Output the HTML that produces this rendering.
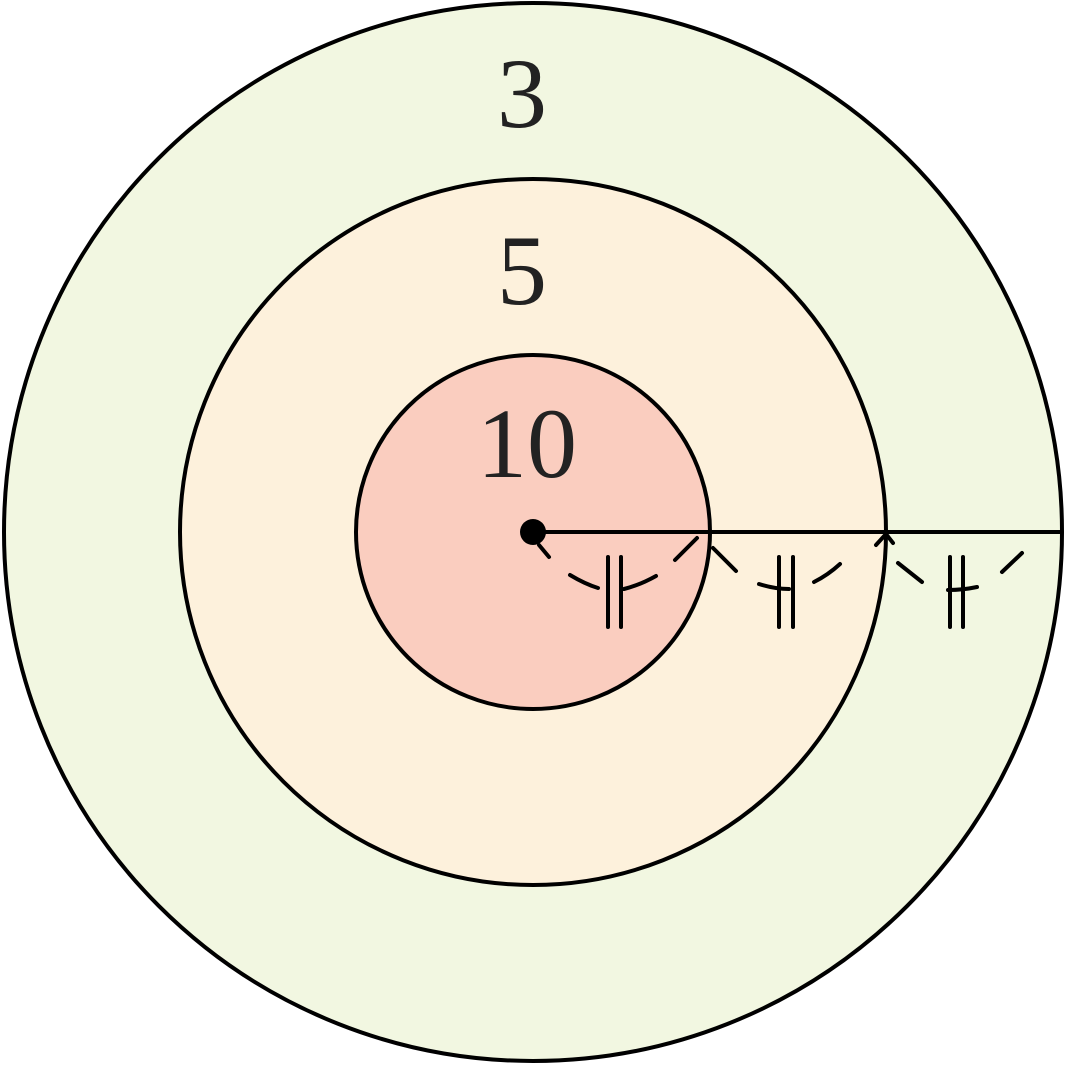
<!DOCTYPE html>
<html><head><meta charset="utf-8"><style>html,body{margin:0;padding:0;background:#fff}</style></head>
<body>
<svg width="1065" height="1065" viewBox="0 0 1065 1065" xmlns="http://www.w3.org/2000/svg">
<circle cx="533" cy="532" r="529" fill="#f2f7e1" stroke="#000" stroke-width="4"/>
<circle cx="533" cy="532" r="353" fill="#fdf1dc" stroke="#000" stroke-width="4"/>
<circle cx="533" cy="532" r="177" fill="#facdbf" stroke="#000" stroke-width="4"/>
<g font-family="Liberation Serif, serif" font-size="100" fill="#222" text-anchor="middle">
<text x="522" y="127">3</text>
<text x="522" y="304">5</text>
<text x="527" y="477">10</text>
</g>
<line x1="533" y1="532" x2="1062" y2="532" stroke="#000" stroke-width="4"/>
<circle cx="533" cy="532" r="13" fill="#000"/>
<g fill="none" stroke="#000" stroke-width="4" stroke-linecap="round">
<path d="M539,545 L549,557 M570,575 Q585,584 598,588 M624,589 Q640,585 656,576 M675,560 L697,538"/>
<path d="M713,548 L736,571 M759,584 Q775,589 789,589 M814,582 Q828,575 840,564"/>
<path d="M898,563 L922,582 M948,590 Q963,590 977,587 M1002,572 L1022,553"/>
<path d="M876,545 L886,534 L893,543"/>
<line x1="608" y1="557" x2="608" y2="627"/>
<line x1="621" y1="557" x2="621" y2="627"/>
<line x1="779" y1="557" x2="779" y2="627"/>
<line x1="793" y1="557" x2="793" y2="627"/>
<line x1="950" y1="557" x2="950" y2="627"/>
<line x1="963" y1="557" x2="963" y2="627"/>
</g>
</svg>
</body></html>
